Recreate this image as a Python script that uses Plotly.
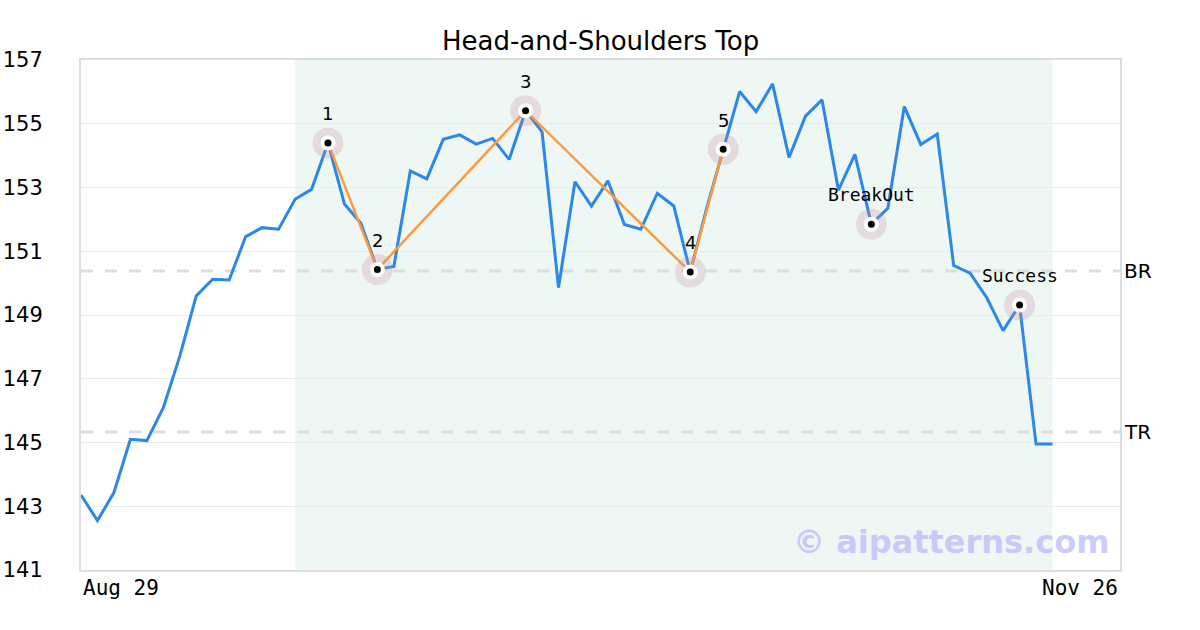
import plotly.graph_objects as go

# ---- data ----
prices = [143.35, 142.55, 143.43, 145.10, 145.06, 146.09, 147.71, 149.60, 150.12, 150.10,
          151.46, 151.74, 151.69, 152.63, 152.94, 154.40, 152.48, 151.88, 150.43, 150.52,
          153.52, 153.27, 154.51, 154.65, 154.36, 154.54, 153.88, 155.41, 154.75, 149.86,
          153.18, 152.42, 153.21, 151.84, 151.69, 152.82, 152.42, 150.35, 152.35, 154.20,
          156.01, 155.38, 156.25, 153.94, 155.24, 155.75, 152.92, 154.04, 151.85, 152.35,
          155.54, 154.35, 154.68, 150.55, 150.31, 149.55, 148.51, 149.31, 144.95, 144.95]
idx = list(range(len(prices)))

pattern_idx = [15, 18, 27, 37, 39]
pattern_labels = ["1", "2", "3", "4", "5"]
event_idx = [48, 57]
event_labels = ["BreakOut", "Success"]

shade_start, shade_end = 13, 59
x_max = 63.1
br_level = 150.38
tr_level = 145.33
level_labels = ["BR", "TR"]
x_tick_labels = ["Aug 29", "Nov 26"]
y_ticks = [141, 143, 145, 147, 149, 151, 153, 155, 157]

BLUE = "#2B87E8"
ORANGE = "#FF9A3C"

fig = go.Figure()

# shaded pattern region
fig.add_shape(type="rect", xref="x", yref="paper", x0=shade_start, x1=shade_end, y0=0, y1=1,
              fillcolor="#EFF7F4", line_width=0, layer="below")

# level lines
for lvl in [br_level, tr_level]:
    fig.add_shape(type="line", xref="paper", yref="y", x0=0, x1=1, y0=lvl, y1=lvl,
                  line=dict(color="#DDDDDD", width=3, dash="12px,12px"), layer="below")

fig.add_trace(go.Scatter(x=idx, y=prices, mode="lines",
                         line=dict(color=BLUE, width=3), hoverinfo="skip"))

fig.add_trace(go.Scatter(x=pattern_idx, y=[prices[i] for i in pattern_idx], mode="lines",
                         line=dict(color=ORANGE, width=2.5), hoverinfo="skip"))

mark_idx = pattern_idx + event_idx
mark_y = [prices[i] for i in mark_idx]
fig.add_trace(go.Scatter(x=mark_idx, y=mark_y, mode="markers",
                         marker=dict(size=31, color="rgba(200,140,155,0.26)", line_width=0),
                         hoverinfo="skip"))
fig.add_trace(go.Scatter(x=mark_idx, y=mark_y, mode="markers",
                         marker=dict(size=11, color="black", line=dict(color="white", width=4)),
                         hoverinfo="skip"))

annotations = []
for i, lab in zip(pattern_idx, pattern_labels):
    annotations.append(dict(x=i, y=prices[i], text=lab, showarrow=False, yshift=29,
                            font=dict(family="DejaVu Sans", size=18, color="black")))
for i, lab in zip(event_idx, event_labels):
    annotations.append(dict(x=i, y=prices[i], text=lab, showarrow=False, yshift=30,
                            font=dict(family="DejaVu Sans Mono", size=18, color="black")))
for lvl, lab in zip([br_level, tr_level], level_labels):
    annotations.append(dict(xref="paper", x=1, y=lvl, text=lab, showarrow=False,
                            xanchor="left", xshift=2,
                            font=dict(family="DejaVu Sans", size=20, color="black")))
annotations.append(dict(xref="paper", yref="paper", x=0, y=0, text=x_tick_labels[0],
                        showarrow=False, xanchor="left", yanchor="top", yshift=-4,
                        font=dict(family="DejaVu Sans Mono", size=21, color="black")))
annotations.append(dict(xref="paper", yref="paper", x=1, y=0, text=x_tick_labels[1],
                        showarrow=False, xanchor="right", yanchor="top", yshift=-4,
                        font=dict(family="DejaVu Sans Mono", size=21, color="black")))
annotations.append(dict(xref="paper", yref="paper", x=0.992, y=0.055, text="© aipatterns.com",
                        showarrow=False, xanchor="right", yanchor="middle",
                        font=dict(family="DejaVu Sans", size=32, color="rgba(170,170,255,0.6)",
                                  weight="bold")))
annotations.append(dict(xref="paper", yref="paper", x=0.5, y=1, text="Head-and-Shoulders Top",
                        showarrow=False, xanchor="center", yanchor="bottom", yshift=2,
                        font=dict(family="DejaVu Sans", size=26, color="black")))

fig.update_layout(
    width=1200, height=630,
    margin=dict(l=81, r=80, t=60, b=60, autoexpand=False),
    paper_bgcolor="white", plot_bgcolor="white",
    showlegend=False,
    annotations=annotations,
    xaxis=dict(range=[0, x_max], showgrid=False, zeroline=False, showticklabels=False,
               showline=True, linecolor="#DDDDDD", linewidth=2, mirror=True, automargin=False),
    yaxis=dict(range=[141, 157], tickvals=y_ticks, ticktext=[str(v) for v in y_ticks],
               showgrid=True, gridcolor="#EBEBEB", gridwidth=1, zeroline=False,
               showline=True, linecolor="#DDDDDD", linewidth=2, mirror=True, automargin=False,
               ticks="outside", ticklen=32, tickcolor="rgba(0,0,0,0)",
               tickfont=dict(family="DejaVu Sans", size=21, color="black")),
)

fig.write_html("out.html", config={"displayModeBar": False},
               post_script="document.body.style.margin='0px';")
